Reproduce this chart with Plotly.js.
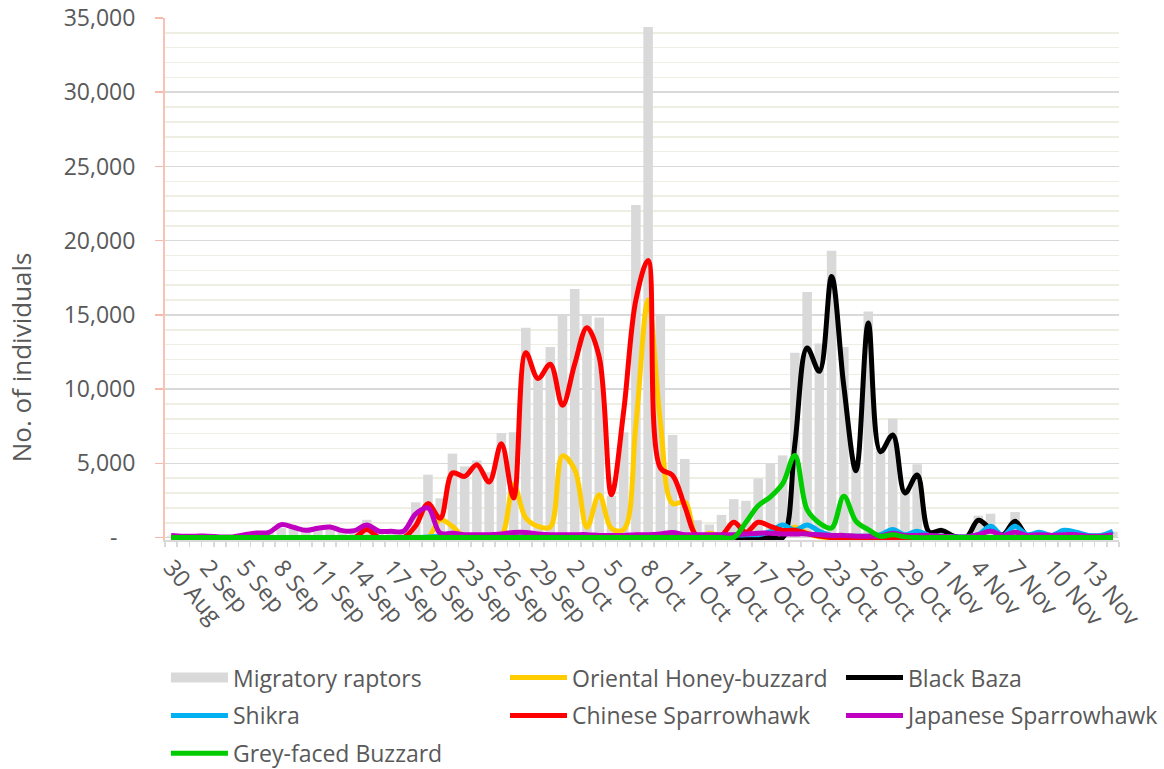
<!DOCTYPE html>
<html><head><meta charset="utf-8">
<script src="https://cdn.plot.ly/plotly-3.0.1.min.js"></script>
<style>html,body{margin:0;padding:0;background:#fff;} #chart{width:1164px;height:769px;}</style>
</head><body><div id="chart"></div>
<script>
const categories = [
 '30 Aug','31 Aug','1 Sep','2 Sep','3 Sep','4 Sep','5 Sep','6 Sep','7 Sep','8 Sep',
 '9 Sep','10 Sep','11 Sep','12 Sep','13 Sep','14 Sep','15 Sep','16 Sep','17 Sep','18 Sep',
 '19 Sep','20 Sep','21 Sep','22 Sep','23 Sep','24 Sep','25 Sep','26 Sep','27 Sep','28 Sep',
 '29 Sep','30 Sep','1 Oct','2 Oct','3 Oct','4 Oct','5 Oct','6 Oct','7 Oct','8 Oct',
 '9 Oct','10 Oct','11 Oct','12 Oct','13 Oct','14 Oct','15 Oct','16 Oct','17 Oct','18 Oct',
 '19 Oct','20 Oct','21 Oct','22 Oct','23 Oct','24 Oct','25 Oct','26 Oct','27 Oct','28 Oct',
 '29 Oct','30 Oct','31 Oct','1 Nov','2 Nov','3 Nov','4 Nov','5 Nov','6 Nov','7 Nov',
 '8 Nov','9 Nov','10 Nov','11 Nov','12 Nov','13 Nov','14 Nov','15 Nov'];

const migratoryRaptors = [
 80,100,80,60,50,50,200,300,350,650,
 700,500,650,750,500,500,1200,450,450,450,
 2380,4240,2650,5660,4800,5200,4400,7050,7100,14140,
 10800,12840,14940,16740,14940,14820,2800,7100,22400,34400,
 15060,6910,5300,1170,880,1530,2590,2480,3975,4990,
 5540,12450,16550,13080,19320,12840,5000,15230,6000,8020,
 3300,4940,400,600,200,150,1480,1610,300,1730,
 300,360,200,600,400,200,200,400];

const orientalHoneyBuzzard = [
 0,0,0,0,0,0,0,0,0,0,
 0,0,0,0,0,0,0,0,0,0,
 0,0,1200,760,0,0,0,100,3570,1320,
 760,720,5500,4580,700,2890,620,540,7600,16000,
 7800,2300,2400,0,300,100,100,200,100,200,
 300,700,300,50,0,0,0,0,0,0,
 0,0,0,0,0,0,0,0,0,0,
 0,0,0,0,0,0,0,0];

const blackBaza = [
 0,0,0,0,0,0,0,0,0,0,
 0,0,0,0,0,0,0,0,0,0,
 0,0,0,0,0,0,0,0,0,0,
 0,0,0,0,0,0,0,0,0,0,
 0,0,0,0,0,0,0,0,0,0,
 0,6300,12770,11200,17590,10200,4500,14450,5780,6910,
 3010,4215,360,490,100,0,1170,580,200,1100,
 100,0,0,0,0,0,0,0];

const shikra = [
 0,0,0,0,0,0,0,0,0,0,
 0,0,0,0,0,0,0,0,0,0,
 0,50,100,300,100,50,50,50,50,50,
 50,50,50,50,50,50,50,50,50,50,
 50,50,50,50,50,100,150,200,200,400,
 850,500,850,430,150,100,100,100,200,550,
 200,430,150,100,50,50,200,760,150,760,
 200,360,150,490,360,150,150,430];

const chineseSparrowhawk = [
 0,0,0,0,0,0,0,0,0,0,
 0,0,0,0,0,0,540,0,0,0,
 800,2290,1300,4350,4130,4910,3750,6330,2670,12450,
 10720,11680,8910,11700,14140,12170,2890,8500,16000,18670,
 4700,4200,2100,100,150,150,1030,360,1030,760,
 490,490,270,100,0,0,0,0,0,0,
 0,0,0,0,0,0,0,0,0,0,
 0,0,0,0,0,0,0,0];

const japaneseSparrowhawk = [
 150,100,100,100,50,50,200,310,360,870,
 700,490,630,720,470,470,850,430,430,430,
 1600,2000,300,300,200,200,200,250,350,350,
 250,200,200,200,200,150,150,150,200,200,
 250,350,200,200,200,200,200,250,300,300,
 250,250,250,200,150,150,100,100,100,300,
 150,150,150,100,50,50,200,430,150,360,
 150,200,150,200,200,100,100,200];

const greyFacedBuzzard = [
 0,0,0,0,0,0,0,0,0,0,
 0,0,0,0,0,0,0,0,0,0,
 0,0,0,0,0,0,0,0,0,0,
 0,0,0,0,0,0,0,0,0,0,
 0,0,0,0,0,0,0,1030,2150,2740,
 3630,5540,1880,990,650,2780,1100,540,90,200,
 50,0,0,0,0,0,0,0,0,0,
 0,0,0,0,0,0,0,0];

const yTickVals = [0,5000,10000,15000,20000,25000,30000,35000];
const yTickText = ['-\u00a0\u00a0\u00a0','5,000','10,000','15,000','20,000','25,000','30,000','35,000'];
const xTickText = categories.map((c,i) => (i % 3 === 0 ? c : ''));

const FONT = 'Open Sans, DejaVu Sans, sans-serif';
const TXT = '#595959';

function lineTrace(name, y, color, legend) {
  return {type:'scatter', mode:'lines', name:name, x:categories, y:y,
    line:{color:color, width:5, shape:'spline', smoothing:1},
    legend:legend, legendgroup:name, hoverinfo:'skip'};
}

const traces = [
  {type:'bar', name:'Migratory raptors', x:categories, y:migratoryRaptors,
   marker:{color:'#d9d9d9'}, showlegend:false, hoverinfo:'skip'},
  // legend-only entry drawn as a wide grey box, like the reference key
  {type:'scatter', mode:'lines', name:'Migratory raptors', x:[categories[0]], y:[null],
   line:{color:'#d9d9d9', width:14}, legend:'legend', legendgroup:'Migratory raptors', hoverinfo:'skip'},
  lineTrace('Oriental Honey-buzzard', orientalHoneyBuzzard, '#ffcc00', 'legend2'),
  lineTrace('Black Baza', blackBaza, '#000000', 'legend3'),
  lineTrace('Shikra', shikra, '#00b0f0', 'legend'),
  lineTrace('Chinese Sparrowhawk', chineseSparrowhawk, '#ff0000', 'legend2'),
  lineTrace('Japanese Sparrowhawk', japaneseSparrowhawk, '#c000c0', 'legend3'),
  lineTrace('Grey-faced Buzzard', greyFacedBuzzard, '#00cc00', 'legend')
];

function legendCol(x) {
  return {orientation:'v', x:x, xanchor:'left', y:-0.2224, yanchor:'top',
    itemwidth:57, tracegroupgap:5, traceorder:'grouped',
    font:{family:FONT, size:23, color:TXT}, bgcolor:'rgba(0,0,0,0)', borderwidth:0};
}

const layout = {
  width:1164, height:769,
  margin:{l:165, r:45, t:18, b:229, autoexpand:false},
  paper_bgcolor:'#ffffff', plot_bgcolor:'#ffffff',
  font:{family:FONT, size:23, color:TXT},
  bargap:0.22,
  showlegend:true,
  legend: legendCol(0.001),
  legend2: legendCol(0.3564),
  legend3: legendCol(0.7086),
  xaxis:{type:'category', range:[-0.5, categories.length-0.5],
    tickmode:'array', tickvals:categories, ticktext:xTickText,
    tickson:'boundaries', ticks:'outside', ticklen:5, tickwidth:1.5, tickcolor:'#d9d9d9',
    tickangle:50, ticklabelstandoff:3, tickfont:{family:FONT, size:23.5, color:TXT},
    showline:true, linecolor:'#d9d9d9', linewidth:1.5, showgrid:false, zeroline:false,
    automargin:false, fixedrange:true},
  yaxis:{range:[-160,35000], tickmode:'array', tickvals:yTickVals, ticktext:yTickText,
    ticks:'outside', ticklen:8, tickwidth:1.5, tickcolor:'#f7b9aa',
    ticklabelstandoff:15,
    tickfont:{family:FONT, size:23, color:TXT},
    showline:true, linecolor:'#f8c2b5', linewidth:2,
    showgrid:true, gridcolor:'#d9d9d9', gridwidth:1.5,
    minor:{dtick:1000, showgrid:true, gridcolor:'#efeee3', gridwidth:1.5, ticks:''},
    zeroline:false, automargin:false, fixedrange:true},
  annotations:[{text:'No. of individuals', textangle:-90, xref:'paper', yref:'paper',
    x:-0.151, y:0.35, xanchor:'center', yanchor:'middle', showarrow:false,
    font:{family:FONT, size:26, color:TXT}}]
};

Plotly.newPlot('chart', traces, layout, {staticPlot:true, displayModeBar:false});
</script>
</body></html>
